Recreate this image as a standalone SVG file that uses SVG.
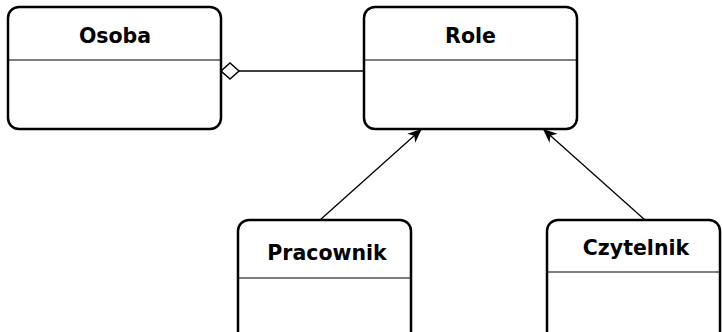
<svg xmlns="http://www.w3.org/2000/svg" width="722" height="332" viewBox="0 0 722 332">
<style>
.box{fill:#fff;stroke:#000;stroke-width:2.5}
.div{stroke:#000;stroke-width:1.2}
.lbl{font-family:"DejaVu Sans",sans-serif;font-weight:bold;font-size:20.5px;fill:#000;text-anchor:middle}
.edge{stroke:#000;stroke-width:1.3;fill:none}
</style>
<defs>
<marker id="arr" markerUnits="userSpaceOnUse" markerWidth="18" markerHeight="16" viewBox="-16 -8 18 16" refX="0" refY="0" orient="auto">
<path d="M0,0 L-14,-6 L-10,0 L-14,6 Z" fill="#000"/>
</marker>
</defs>
<rect x="0" y="0" width="722" height="332" fill="#fff"/>
<g id="connectors">
<line class="edge" x1="239" y1="71" x2="364" y2="71"/>
<polygon points="221,71 230,63 239,71 230,79" fill="#fff" stroke="#000" stroke-width="1.5"/>
<line class="edge" x1="320" y1="220" x2="421.7" y2="129" marker-end="url(#arr)"/>
<line class="edge" x1="645" y1="220" x2="543" y2="129" marker-end="url(#arr)"/>
</g>
<g id="osoba">
<rect class="box" x="8" y="7" width="213" height="122" rx="11"/>
<line class="div" x1="8" y1="60" x2="221" y2="60"/>
<text class="lbl" x="115" y="42.5">Osoba</text>
</g>
<g id="role">
<rect class="box" x="364" y="7" width="213" height="122" rx="11"/>
<line class="div" x1="364" y1="60" x2="577" y2="60"/>
<text class="lbl" x="470.5" y="42.5">Role</text>
</g>
<g id="pracownik">
<rect class="box" x="238" y="220" width="173" height="124" rx="11"/>
<line class="div" x1="238" y1="278" x2="411" y2="278"/>
<text class="lbl" x="327" y="260">Pracownik</text>
</g>
<g id="czytelnik">
<rect class="box" x="547" y="220" width="173" height="124" rx="11"/>
<line class="div" x1="547" y1="272" x2="720" y2="272"/>
<text class="lbl" x="636" y="254.5">Czytelnik</text>
</g>
</svg>
